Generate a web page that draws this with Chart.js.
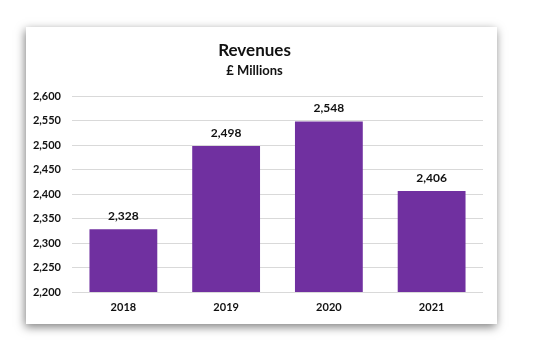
<!DOCTYPE html>
<html>
<head>
<meta charset="utf-8">
<script src="https://cdn.jsdelivr.net/npm/chart.js@4/dist/chart.umd.min.js"></script>
<style>
  html, body { margin: 0; padding: 0; background: #ffffff; }
  body { width: 547px; height: 351px; position: relative; overflow: hidden; }
  #card {
    position: absolute; left: 26px; top: 27px; width: 471px; height: 297px;
    background: #ffffff;
    box-shadow: -1px 3px 9px rgba(0,0,0,0.5);
  }
  canvas { display: block; }
</style>
</head>
<body>
<div id="card"><canvas id="c" width="471" height="297"></canvas></div>
<script>
const categories = ['2018', '2019', '2020', '2021'];
const revenues = [2328, 2498, 2548, 2406];
const yTicks = [2200, 2250, 2300, 2350, 2400, 2450, 2500, 2550, 2600];
const titleText = 'Revenues';
const subtitleText = '£ Millions';

const FONT = 'Lato, "Open Sans", sans-serif';
const fmt = v => v.toLocaleString('en-US');

const dataLabels = {
  id: 'dataLabels',
  afterDatasetsDraw(chart) {
    const ctx = chart.ctx;
    const meta = chart.getDatasetMeta(0);
    ctx.save();
    ctx.font = 'bold 12px ' + FONT;
    ctx.fillStyle = '#111111';
    ctx.textAlign = 'center';
    ctx.textBaseline = 'middle';
    meta.data.forEach((bar, i) => {
      ctx.fillText(fmt(chart.data.datasets[0].data[i]), bar.x, bar.y - 13);
    });
    ctx.restore();
  }
};

new Chart(document.getElementById('c'), {
  type: 'bar',
  data: {
    labels: categories,
    datasets: [{
      data: revenues,
      backgroundColor: '#7030A0',
      borderWidth: 0,
      categoryPercentage: 0.66,
      barPercentage: 1.0
    }]
  },
  options: {
    responsive: false,
    animation: false,
    devicePixelRatio: 1,
    layout: { padding: { left: 0, right: 14, top: 0, bottom: 0 } },
    plugins: {
      legend: { display: false },
      tooltip: { enabled: false },
      title: {
        display: true, text: titleText, color: '#111111',
        font: { family: FONT, size: 17, weight: 'bold' },
        padding: { top: 13.8, bottom: 0 }
      },
      subtitle: {
        display: true, text: subtitleText, color: '#111111',
        font: { family: FONT, size: 13, weight: 'bold' },
        padding: { top: 2, bottom: 17.2 }
      }
    },
    scales: {
      x: {
        grid: { display: false, drawTicks: false },
        border: { display: false },
        ticks: { color: '#111111', font: { family: FONT, size: 11, weight: 'bold' }, padding: 9 },
        afterFit(s) { s.height = 32; }
      },
      y: {
        min: 2200, max: 2600,
        afterBuildTicks(s) { s.ticks = yTicks.map(v => ({ value: v })); },
        grid: { color: '#d9d9d9', lineWidth: 1, drawTicks: false },
        border: { display: false },
        ticks: {
          color: '#111111', padding: 11,
          font: { family: FONT, size: 11, weight: 'bold' },
          callback: v => fmt(v)
        },
        afterFit(s) { s.width = 46; }
      }
    }
  },
  plugins: [dataLabels]
});
</script>
</body>
</html>
